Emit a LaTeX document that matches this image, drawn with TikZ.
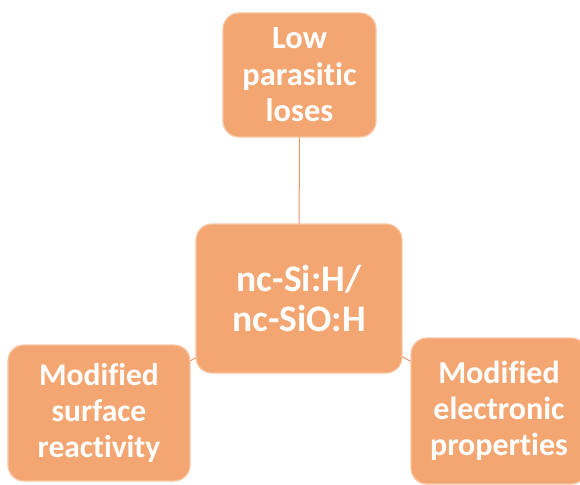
\documentclass[tikz,border=0pt]{standalone}
\usepackage{fontspec}
\setmainfont[Ligatures=NoCommon]{Carlito}
\definecolor{boxfill}{HTML}{F3A671}
\definecolor{boxedge}{HTML}{F8C6A2}
\definecolor{linkcol}{HTML}{E8946A}
\begin{document}
\begin{tikzpicture}[x=1pt,y=-1pt,
  card/.style={draw=boxedge,line width=1.2pt,fill=boxfill,rounded corners=16pt,
    text=white,font=\bfseries,align=center,inner sep=0pt},
  link/.style={draw=linkcol,line width=1pt}]
\useasboundingbox (0,0) rectangle (580,484);
\node[card,minimum width=153pt,minimum height=124pt,font=\fontsize{32.5}{36.5}\selectfont\bfseries] (top) at (299.5,75) {Low\\parasitic\\loses};
\node[card,minimum width=206pt,minimum height=149pt,font=\fontsize{37.5}{40.5}\selectfont\bfseries] (mid) at (299,298.5) {nc-Si:H/\\nc-SiO:H};
\node[card,minimum width=182pt,minimum height=136pt,font=\fontsize{31.5}{36}\selectfont\bfseries] (bl) at (99,413) {Modified\\surface\\reactivity};
\node[card,minimum width=176pt,minimum height=146pt,font=\fontsize{32}{36}\selectfont\bfseries] (br) at (499,411) {Modified\\electronic\\properties};
\draw[link] (top) -- (mid);
\draw[link] (mid) -- (bl);
\draw[link] (mid) -- (br);
\end{tikzpicture}
\end{document}
